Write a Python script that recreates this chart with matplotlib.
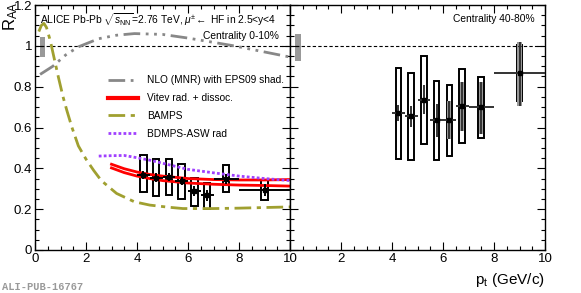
import numpy as np
import matplotlib
matplotlib.use('Agg')
import matplotlib.pyplot as plt
from matplotlib.patches import Rectangle
from matplotlib.ticker import MultipleLocator

plt.rcParams['font.family'] = ['Liberation Sans', 'DejaVu Sans']
plt.rcParams['mathtext.fontset'] = 'custom'
plt.rcParams['mathtext.rm'] = 'Liberation Sans'
plt.rcParams['mathtext.it'] = 'Liberation Sans:italic'

# measured points (muons from heavy-flavour decays)
pt = [4.25, 4.75, 5.25, 5.75, 6.25, 6.75, 7.5, 9.0]
pt_err = [0.25, 0.25, 0.25, 0.25, 0.25, 0.25, 0.5, 1.0]

# 0-10 %
raa_c = [0.369, 0.355, 0.358, 0.338, 0.289, 0.267, 0.346, 0.293]
stat_c = [0.02, 0.02, 0.02, 0.02, 0.025, 0.025, 0.025, 0.03]
syst_c_hi = [0.463, 0.447, 0.447, 0.419, 0.355, 0.330, 0.415, 0.341]
syst_c_lo = [0.284, 0.263, 0.268, 0.252, 0.216, 0.200, 0.284, 0.244]

# 40-80 %
raa_p = [0.672, 0.654, 0.737, 0.637, 0.637, 0.707, 0.699, 0.865]
stat_p_hi = [0.712, 0.706, 0.808, 0.716, 0.732, 0.821, 0.821, 1.021]
stat_p_lo = [0.631, 0.602, 0.667, 0.553, 0.545, 0.585, 0.569, 0.707]
syst_p_hi = [0.889, 0.865, 0.951, 0.826, 0.810, 0.886, 0.845, 1.003]
syst_p_lo = [0.447, 0.439, 0.520, 0.439, 0.459, 0.523, 0.548, 0.728]
shade_p = [False, False, False, False, True, True, True, True]

# normalisation uncertainties at unity
norm_c = [0.946, 1.044]
norm_p = [0.925, 1.060]

# models (0-10 %)
nlo_x = [0.2, 0.7, 1.2, 1.7, 2.5, 3.2, 3.9, 5.0, 6.0, 7.0, 7.8, 9.0, 10.0]
nlo_y = [0.86, 0.9, 0.955, 0.995, 1.035, 1.052, 1.06, 1.056, 1.038, 1.017, 1.0, 0.97, 0.945]

vitev_x = [3.0, 3.5, 4.0, 4.5, 5.0, 6.0, 7.0, 8.0, 9.0, 10.0]
vitev_hi = [0.42, 0.398, 0.382, 0.37, 0.362, 0.35, 0.345, 0.343, 0.343, 0.345]
vitev_lo = [0.402, 0.379, 0.362, 0.35, 0.34, 0.328, 0.322, 0.318, 0.316, 0.313]

bamps_x = [0.15, 0.25, 0.35, 0.45, 0.6, 0.75, 0.92, 1.1, 1.25, 1.45, 1.7, 2.0, 2.3, 2.6, 3.2, 3.9, 4.5, 5.2, 5.8, 7.0, 8.0, 9.0, 10.0]
bamps_y = [1.07, 1.1, 1.11, 1.09, 1.025, 0.94, 0.845, 0.75, 0.683, 0.6, 0.51, 0.445, 0.39, 0.34, 0.277, 0.236, 0.22, 0.21, 0.203, 0.203, 0.205, 0.208, 0.211]

bdmps_x = [2.5, 3.0, 3.5, 4.0, 4.5, 5.0, 5.5, 6.0, 7.0, 8.0, 9.0, 10.0]
bdmps_y = [0.46, 0.462, 0.463, 0.452, 0.44, 0.425, 0.41, 0.395, 0.378, 0.362, 0.35, 0.34]

xticks = [0, 2, 4, 6, 8, 10]
yticks = [0, 0.2, 0.4, 0.6, 0.8, 1.0, 1.2]
ylabels = ['0', '0.2', '0.4', '0.6', '0.8', '1', '1.2']

fig = plt.figure(figsize=(5.81, 2.93), dpi=100)
ax1 = fig.add_axes([35/581, 43/293, 255/581, 245/293])
ax2 = fig.add_axes([290/581, 43/293, 255/581, 245/293])

for ax in (ax1, ax2):
    ax.set_xlim(0, 10)
    ax.set_ylim(0, 1.2)
    ax.set_xticks(xticks)
    ax.xaxis.set_minor_locator(MultipleLocator(0.5))
    ax.set_yticks(yticks)
    ax.yaxis.set_minor_locator(MultipleLocator(0.05))
    ax.tick_params(which='both', direction='in', top=True, right=True, labelsize=9.5, pad=2)
    ax.tick_params(which='major', length=6, width=0.8)
    ax.tick_params(which='minor', length=3, width=0.8)
    for s in ax.spines.values():
        s.set_linewidth(1.0)
    ax.axhline(1.0, color='black', ls=(0, (3, 2)), lw=0.8)
ax1.set_xticklabels([str(t) for t in xticks])
ax2.set_xticklabels([''] + [str(t) for t in xticks[1:]])
ax1.set_yticklabels(ylabels)
ax2.set_yticklabels([])

# global normalisation boxes
ax1.add_patch(Rectangle((0.2, norm_c[0]), 0.2, norm_c[1] - norm_c[0], color='#999999', lw=0))
ax2.add_patch(Rectangle((0.2, norm_p[0]), 0.22, norm_p[1] - norm_p[0], color='#999999', lw=0))

# models
ax1.plot(nlo_x, nlo_y, color='#888888', lw=2, ls=(0, (6, 2, 1, 2, 1, 2, 1, 2)),
         label='NLO (MNR) with EPS09 shad.')
ax1.plot(vitev_x, vitev_hi, color='red', lw=2, label='Vitev rad. + dissoc.')
ax1.plot(vitev_x, vitev_lo, color='red', lw=2)
ax1.plot(bamps_x, bamps_y, color='#a0a030', lw=2, ls=(0, (6, 2, 1.5, 2)), label='BAMPS')
ax1.plot(bdmps_x, bdmps_y, color='#a040ff', lw=2, ls=(0, (1, 0.8)), label='BDMPS-ASW rad')

leg = ax1.legend(loc='upper left', bbox_to_anchor=(0.27, 0.73), frameon=False,
                 fontsize=7.3, handlelength=3.0, handletextpad=0.9, labelspacing=0.78,
                 borderaxespad=0)
leg.get_lines()[1].set_linewidth(3)

# data 0-10 %
for x, lo, hi in zip(pt, syst_c_lo, syst_c_hi):
    ax1.add_patch(Rectangle((x - 0.125, lo), 0.25, hi - lo, fill=False, ec='black', lw=1.4))
ax1.errorbar(pt, raa_c, xerr=pt_err, yerr=stat_c, fmt='s', ms=3, color='black',
             elinewidth=1.4, capsize=0, zorder=5)

# data 40-80 %
for x, lo, hi, sh, slo, shi in zip(pt, syst_p_lo, syst_p_hi, shade_p, stat_p_lo, stat_p_hi):
    ax2.add_patch(Rectangle((x - 0.11, lo), 0.22, hi - lo, fill=False, ec='black', lw=1.4))
    if sh:
        ax2.add_patch(Rectangle((x - 0.08, slo), 0.16, shi - slo, color='#999999', lw=0))
yerr_p = [np.array(raa_p) - np.array(stat_p_lo), np.array(stat_p_hi) - np.array(raa_p)]
ax2.errorbar(pt, raa_p, xerr=pt_err, yerr=yerr_p, fmt='s', ms=3, color='black',
             ecolor='#333333', elinewidth=1.4, capsize=0, zorder=5)

# texts
ax1.text(0.02, 0.975, r'ALICE Pb-Pb $\sqrt{s_{\rm NN}}$=2.76 TeV, $\mu^{\pm}\!\leftarrow$ HF in 2.5<y<4',
         transform=ax1.transAxes, ha='left', va='top', fontsize=7.4)
ax1.text(0.955, 0.895, 'Centrality 0-10%', transform=ax1.transAxes, ha='right', va='top', fontsize=7.4)
ax2.text(0.96, 0.965, 'Centrality 40-80%', transform=ax2.transAxes, ha='right', va='top', fontsize=7.4)

fig.text(0.002, 0.995, r'R$_{\rm AA}$', rotation=90, ha='left', va='top', fontsize=12)
fig.text(545/581, 0.015, r'p$_{\rm t}$ (GeV/c)', ha='right', va='bottom', fontsize=11)
fig.text(0.003, 0.005, 'ALI-PUB-16767', ha='left', va='bottom', fontsize=7.5,
         color='#999999', family='Liberation Mono', weight='bold')

fig.savefig('out.png', dpi=100)
